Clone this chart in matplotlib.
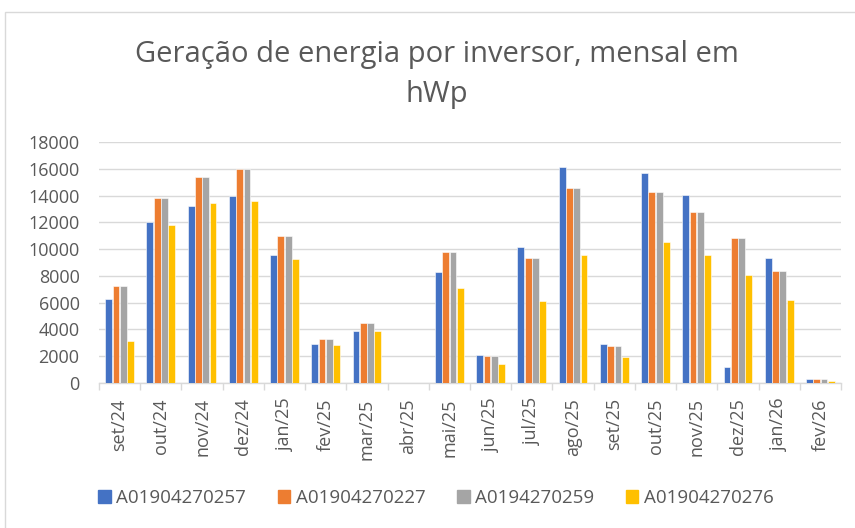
import numpy as np
import matplotlib.pyplot as plt
from matplotlib.patches import Patch, Rectangle

# --- data ---
meses = ["set/24", "out/24", "nov/24", "dez/24", "jan/25", "fev/25", "mar/25", "abr/25",
         "mai/25", "jun/25", "jul/25", "ago/25", "set/25", "out/25", "nov/25", "dez/25",
         "jan/26", "fev/26"]
inversores = ["A01904270257", "A01904270227", "A0194270259", "A01904270276"]

inv_0257 = [6250, 12000, 13250, 14000, 9560, 2900, 3850, 0,
            8320, 2120, 10160, 16100, 2950, 15680, 14050, 1230, 9320, 280]
inv_0227 = [7280, 13830, 15400, 15980, 10990, 3320, 4460, 0,
            9770, 2050, 9350, 14580, 2750, 14300, 12760, 10860, 8350, 280]
inv_0259 = [7280, 13830, 15400, 15980, 10990, 3320, 4460, 0,
            9770, 2050, 9350, 14580, 2750, 14300, 12760, 10860, 8350, 280]
inv_0276 = [3120, 11770, 13480, 13580, 9250, 2820, 3870, 0,
            7130, 1400, 6110, 9590, 1920, 10540, 9540, 8080, 6180, 150]

series = [inv_0257, inv_0227, inv_0259, inv_0276]
cores = ["#4472C4", "#ED7D31", "#A5A5A5", "#FFC000"]
texto = "#595959"
grade = "#D9D9D9"

plt.rcParams['font.family'] = ['Open Sans', 'DejaVu Sans']

fig = plt.figure(figsize=(8.55, 5.28), dpi=100)
ax = fig.add_axes([99 / 855, 1 - 383 / 528, (841 - 99) / 855, (383 - 142) / 528])

# moldura clara do grafico
fig.patches.append(Rectangle((5 / 855, -0.1), 1.2, 1 - 12 / 528 + 0.1,
                             transform=fig.transFigure, fill=False,
                             edgecolor=grade, linewidth=1))

x = np.arange(len(meses))
passo = 0.177
largura = 0.165
for i, (vals, cor) in enumerate(zip(series, cores)):
    ax.bar(x + (i - 1.5) * passo, vals, width=largura, color=cor,
           edgecolor="white", linewidth=0.4, zorder=3)

ax.set_xlim(-0.5, len(meses) - 0.5)
ax.set_ylim(0, 18000)
ax.set_yticks(range(0, 18001, 2000))
ax.yaxis.grid(True, color=grade, linewidth=1, zorder=0)

for s in ["top", "right", "left"]:
    ax.spines[s].set_visible(False)
ax.spines["bottom"].set_color(grade)
ax.spines["bottom"].set_linewidth(1)

ax.set_xticks(x)
ax.set_xticklabels(meses, rotation=90, fontsize=13, color=texto)
ax.set_xticks(np.arange(-0.5, len(meses)), minor=True)
ax.tick_params(axis="x", which="major", length=0, pad=11)
ax.tick_params(axis="x", which="minor", length=5, color=grade, width=1)
ax.tick_params(axis="y", length=0, pad=14, labelsize=13, labelcolor=texto)

# titulo em duas linhas
fig.text(437 / 855, 1 - 62 / 528, "Geração de energia por inversor, mensal em",
         ha="center", va="baseline", fontsize=21, color=texto)
fig.text(437 / 855, 1 - 102 / 528, "hWp",
         ha="center", va="baseline", fontsize=21, color=texto)

handles = [Patch(facecolor=c, edgecolor=c) for c in cores]
fig.legend(handles, inversores, loc="center", bbox_to_anchor=(436 / 855, 1 - 498 / 528),
           ncol=4, frameon=False, fontsize=13.5, labelcolor=texto,
           handlelength=0.65, handleheight=0.65, handletextpad=0.3,
           columnspacing=1.7, borderpad=0)

fig.savefig("out.png", dpi=100)
